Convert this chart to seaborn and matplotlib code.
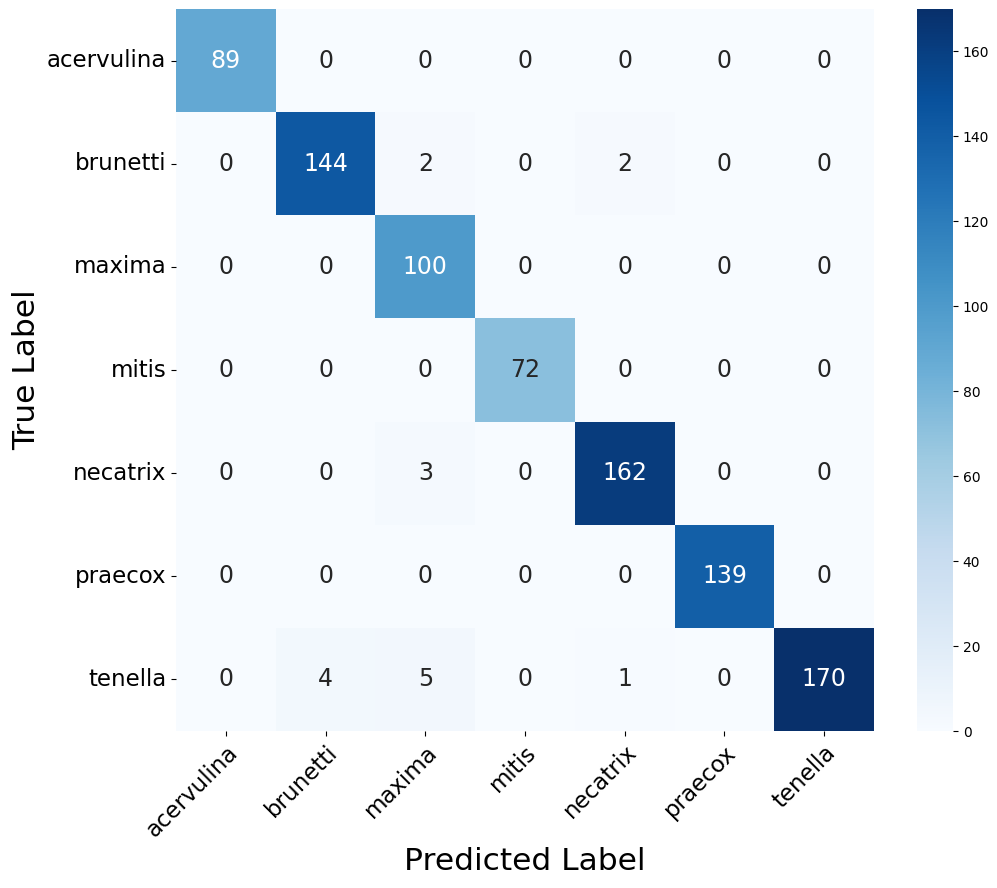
import matplotlib
matplotlib.use("Agg")
import matplotlib.pyplot as plt
import seaborn as sns
import numpy as np
import pandas as pd

classes = ["acervulina", "brunetti", "maxima", "mitis", "necatrix", "praecox", "tenella"]
row_acervulina = [89, 0, 0, 0, 0, 0, 0]
row_brunetti = [0, 144, 2, 0, 2, 0, 0]
row_maxima = [0, 0, 100, 0, 0, 0, 0]
row_mitis = [0, 0, 0, 72, 0, 0, 0]
row_necatrix = [0, 0, 3, 0, 162, 0, 0]
row_praecox = [0, 0, 0, 0, 0, 139, 0]
row_tenella = [0, 4, 5, 0, 1, 0, 170]

cm = pd.DataFrame([row_acervulina, row_brunetti, row_maxima, row_mitis,
                   row_necatrix, row_praecox, row_tenella],
                  index=classes, columns=classes)

fig = plt.figure(figsize=(9.97, 8.88), dpi=100)
ax = fig.add_axes([176/997, 157/888, 698/997, 722/888])
cax = fig.add_axes([917/997, 157/888, 36/997, 722/888])

sns.heatmap(cm, annot=True, fmt="d", cmap="Blues", ax=ax, cbar_ax=cax,
            annot_kws={"size": 17})

ax.set_xlabel("Predicted Label", fontsize=22.5)
ax.set_ylabel("True Label", fontsize=22.5)
ax.set_xticklabels(classes, rotation=45, ha="right", rotation_mode="anchor", fontsize=16.5)
ax.set_yticklabels(classes, rotation=0, fontsize=16.5)
cax.tick_params(labelsize=10)

fig.savefig("out.png", dpi=100)
